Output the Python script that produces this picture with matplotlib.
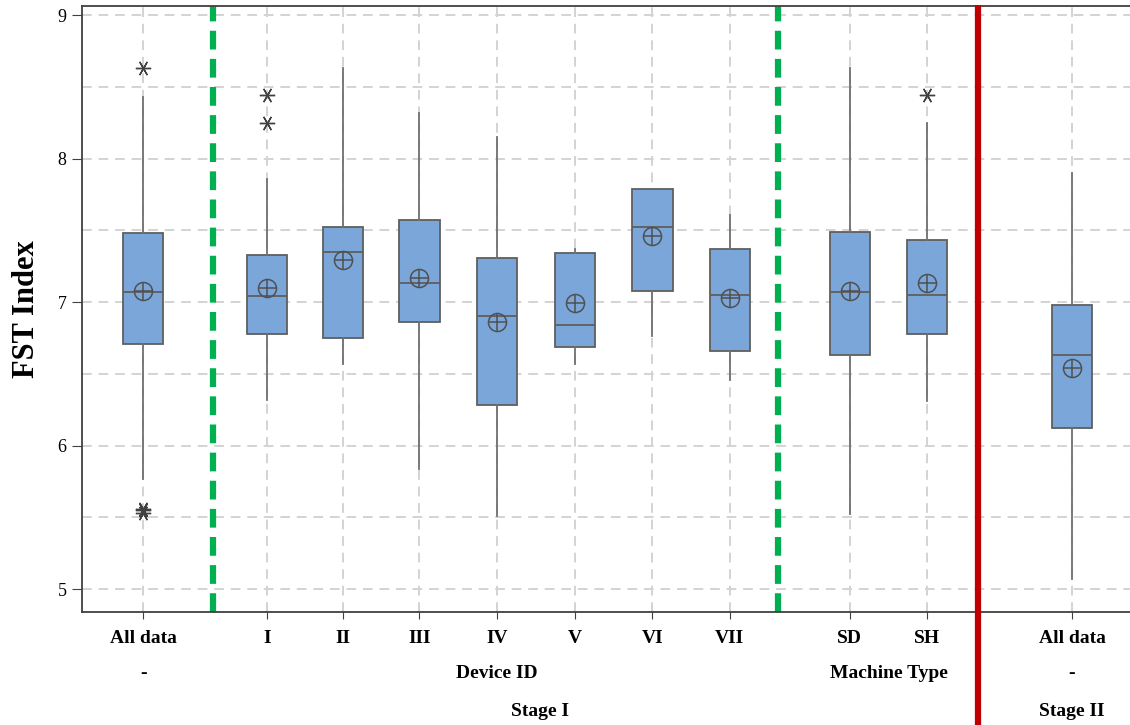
import matplotlib
matplotlib.use("Agg")
import matplotlib.pyplot as plt

# box statistics
labels = ["All data", "I", "II", "III", "IV", "V", "VI", "VII", "SD", "SH", "All data"]
whislo = [5.77, 6.32, 6.57, 5.84, 5.51, 6.57, 6.76, 6.46, 5.52, 6.31, 5.07]
q1 = [6.71, 6.78, 6.75, 6.86, 6.28, 6.69, 7.08, 6.66, 6.63, 6.78, 6.12]
med = [7.07, 7.04, 7.35, 7.13, 6.90, 6.84, 7.52, 7.05, 7.07, 7.05, 6.63]
q3 = [7.48, 7.33, 7.52, 7.57, 7.31, 7.34, 7.79, 7.37, 7.49, 7.43, 6.98]
whishi = [8.43, 7.86, 8.63, 8.32, 8.15, 7.37, 7.79, 7.61, 8.63, 8.25, 7.90]
means = [7.08, 7.10, 7.29, 7.17, 6.86, 6.99, 7.46, 7.03, 7.08, 7.13, 6.54]
outliers = [[8.63, 5.56, 5.53, 5.55], [8.44, 8.25], [], [], [], [], [], [], [], [8.44], []]

positions = [0, 1.6, 2.58, 3.57, 4.57, 5.58, 6.58, 7.58, 9.13, 10.13, 12.0]

serif = "Liberation Serif"

fig = plt.figure(figsize=(11.3, 7.25), dpi=100)
ax = fig.add_axes([82 / 1130, 1 - 612 / 725, 1 - 82 / 1130, (612 - 6) / 725])

stats = []
for i in range(len(labels)):
    stats.append(dict(whislo=whislo[i], q1=q1[i], med=med[i], q3=q3[i],
                      whishi=whishi[i], mean=means[i], fliers=outliers[i]))

edge = "#5f5f5f"
ax.bxp(stats, positions=positions, widths=0.52, patch_artist=True,
       showcaps=False, showmeans=False, showfliers=True,
       boxprops=dict(facecolor="#7ba6d9", edgecolor=edge, linewidth=1.3),
       medianprops=dict(color=edge, linewidth=1.3),
       whiskerprops=dict(color="#707070", linewidth=1.3),
       flierprops=dict(marker=(6, 2, 90), markersize=11, markeredgecolor="#404040",
                       markeredgewidth=1.0, linestyle="none"),
       zorder=3)

# mean symbol: circle with a cross
ax.plot(positions, means, linestyle="none", marker="o", markersize=13,
        markerfacecolor="none", markeredgecolor="#505050", markeredgewidth=1.1, zorder=4)
ax.plot(positions, means, linestyle="none", marker="+", markersize=13,
        markeredgecolor="#505050", markeredgewidth=1.1, zorder=4)

# grid
for y in [5, 5.5, 6, 6.5, 7, 7.5, 8, 8.5, 9]:
    ax.axhline(y, color="#d3d3d3", linestyle=(0, (5, 3.5)), linewidth=1.4, zorder=0)
for x in positions:
    ax.axvline(x, color="#d3d3d3", linestyle=(0, (5, 3.5)), linewidth=1.4, zorder=0)

# separators
for x in [0.9, 8.2]:
    ax.axvline(x, color="#00b050", linestyle=(0, (3, 1.5)), linewidth=4.5, zorder=2)
ax.plot([10.79, 10.79], [9.07, 3.95], color="#c00000", linewidth=4.5, zorder=5,
        clip_on=False, solid_capstyle="butt")

ax.set_xlim(-0.79, 12.75)
ax.set_ylim(4.84, 9.063)
ax.set_yticks([5, 6, 7, 8, 9])
ax.set_yticklabels(["5", "6", "7", "8", "9"], fontfamily=serif, fontsize=13)
ax.set_xticks(positions)
ax.set_xticklabels(labels, fontfamily=serif, fontsize=14, fontweight="bold")
ax.tick_params(axis="x", length=5, pad=8, color="#404040")
ax.tick_params(axis="y", length=7, pad=4, color="#404040")

ax.spines["right"].set_visible(False)
for s in ["left", "bottom", "top"]:
    ax.spines[s].set_color("#404040")
    ax.spines[s].set_linewidth(1.3)

ax.set_ylabel("FST Index", fontfamily=serif, fontsize=22, fontweight="bold", labelpad=12)

# group labels below the axis
row2 = 1 - 673 / 725
row3 = 1 - 711 / 725
tr = ax.get_xaxis_transform()
def under(x, yfig, text):
    yax = (yfig - (1 - 612 / 725)) / ((612 - 6) / 725)
    ax.text(x, yax, text, transform=tr, ha="center", va="center",
            fontfamily=serif, fontsize=14, fontweight="bold", clip_on=False)

under(0, row2, "-")
under(4.57, row2, "Device ID")
under(9.63, row2, "Machine Type")
under(12.0, row2, "-")
under(5.13, row3, "Stage I")
under(12.0, row3, "Stage II")

fig.savefig("out.png", dpi=100)
